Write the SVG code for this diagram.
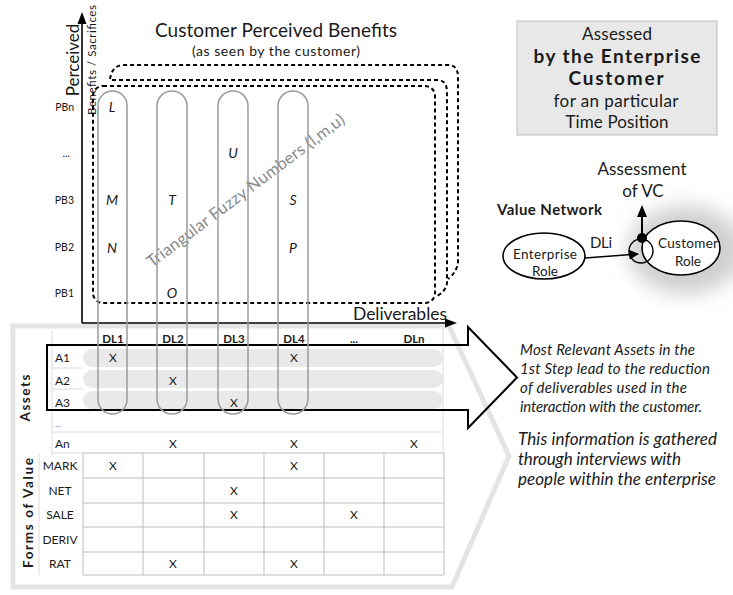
<svg xmlns="http://www.w3.org/2000/svg" width="733" height="595" viewBox="0 0 733 595">
  <defs>
    <style>
      .t { font-family: Lato, "Open Sans", "Noto Sans", sans-serif; fill: #1a1a1a; }
      .b { font-weight: bold; }
      .i { font-style: italic; }
      .mid { text-anchor: middle; }
      .dash { fill: none; stroke: #000; stroke-width: 2; stroke-dasharray: 4 3; }
      .pill { fill: none; stroke: #9a9a9a; stroke-width: 1.5; }
      .row { fill: #e9e9e9; }
      .grid { fill: none; stroke: #bdbdbd; stroke-width: 1; }
      .faint { fill: none; stroke: #dcdcdc; stroke-width: 1; }
      .x { font-size: 12px; text-anchor: middle; }
      .lbl { font-size: 12px; }
      .pb { font-size: 10.5px; text-anchor: end; }
      .fz { font-size: 14px; font-style: italic; text-anchor: middle; }
    </style>
    <filter id="glow" x="-60%" y="-60%" width="220%" height="220%">
      <feGaussianBlur stdDeviation="10"/>
    </filter>
    <marker id="arr" viewBox="0 0 10 10" refX="9" refY="5" markerWidth="7" markerHeight="7" orient="auto">
      <path d="M0 0 L10 5 L0 10 Z" fill="#000"/>
    </marker>
  </defs>

  <rect width="733" height="595" fill="#fff"/>

  <!-- lower table backdrop: pale pentagon outline -->
  <g id="table-frame">
    <path d="M13 326 H449 L509 456 L452 587 H13 Z" fill="#fff" stroke="#e4e4e4" stroke-width="5"/>
  </g>

  <!-- chart axes -->
  <g id="axes">
    <line x1="82" y1="323" x2="82" y2="22" stroke="#000" stroke-width="1.6"/>
    <polygon points="82,12 77.5,24 86.5,24" fill="#000"/>
    <line x1="82" y1="323" x2="446" y2="323" stroke="#000" stroke-width="1.6"/>
    <polygon points="457,323 445,318.5 445,327.5" fill="#000"/>
    <text class="t" transform="translate(79,60) rotate(-90)" font-size="17" text-anchor="middle">Perceived</text>
    <text class="t" transform="translate(95.5,60) rotate(-90)" font-size="11.5" text-anchor="middle" textLength="110">Benefits / Sacrifices</text>
    <text class="t" x="447" y="320" font-size="17.5" text-anchor="end" textLength="94">Deliverables</text>
    <text class="t pb" x="74" y="111">PBn</text>
    <text class="t pb" x="70" y="157">...</text>
    <text class="t pb" x="74" y="204">PB3</text>
    <text class="t pb" x="74" y="251">PB2</text>
    <text class="t pb" x="74" y="297">PB1</text>
  </g>

  <!-- title -->
  <g id="title">
    <text class="t mid" x="276" y="37" font-size="19" textLength="242">Customer Perceived Benefits</text>
    <text class="t mid" x="276" y="56" font-size="14" textLength="168">(as seen by the customer)</text>
  </g>

  <!-- stacked dashed sheets -->
  <g id="sheets">
    <path class="dash" d="M110 79 Q112 65 124 65 H448 Q458 65 458 77 V262 Q457 272 448 279"/>
    <path class="dash" d="M112 80 H437 Q447 80 447 92 V283 Q446 291 437 296"/>
    <rect class="dash" x="93" y="86" width="342" height="217" rx="10"/>
  </g>

  <text class="t" transform="translate(249,195) rotate(-37)" font-size="16.5" text-anchor="middle" textLength="243" style="fill:#8a8a8a">Triangular Fuzzy Numbers (l,m,u)</text>

  <!-- top-right note -->
  <g id="assessed-box">
    <rect x="517" y="21" width="200" height="114" fill="#e8e8e8" stroke="#bdbdbd" stroke-width="1"/>
    <text class="t mid" x="617" y="40" font-size="17" textLength="70">Assessed</text>
    <text class="t mid b" x="617" y="63" font-size="19" textLength="167">by the Enterprise</text>
    <text class="t mid b" x="616" y="85" font-size="19" textLength="95">Customer</text>
    <text class="t mid" x="616" y="107" font-size="17" textLength="125">for an particular</text>
    <text class="t mid" x="617" y="128" font-size="17" textLength="103">Time Position</text>
  </g>

  <!-- value network -->
  <g id="value-network">
    <text class="t b" x="497" y="215" font-size="15" textLength="105">Value Network</text>
    <text class="t mid" x="642" y="175" font-size="17" textLength="89">Assessment</text>
    <text class="t mid" x="643" y="197" font-size="17">of VC</text>
  </g>
  <g id="customer-role">
    <ellipse cx="686" cy="250" rx="58" ry="44" fill="#cfcfcf" filter="url(#glow)"/>
    <ellipse cx="681" cy="248" rx="39" ry="27" fill="#fff" stroke="#000" stroke-width="1.6"/>
    <text class="t mid" x="688" y="248" font-size="13.5" textLength="60">Customer</text>
    <text class="t mid" x="688" y="266" font-size="13.5">Role</text>
  </g>
  <g id="enterprise-role">
    <ellipse cx="544" cy="256" rx="41" ry="23" fill="#fff" stroke="#000" stroke-width="1.6"/>
    <text class="t mid" x="545" y="259" font-size="13.5" textLength="64">Enterprise</text>
    <text class="t mid" x="545" y="276" font-size="13.5">Role</text>
  </g>
  <g id="vn-connectors">
    <circle cx="641" cy="251" r="12" fill="none" stroke="#000" stroke-width="1.4"/>
    <line x1="585" y1="258" x2="638" y2="254" stroke="#000" stroke-width="1.4" marker-end="url(#arr)"/>
    <text class="t mid" x="601" y="248" font-size="15" textLength="22">DLi</text>
    <line x1="642" y1="238" x2="642" y2="216" stroke="#000" stroke-width="2"/>
    <polygon points="642,205 637,217 647,217" fill="#000"/>
    <circle cx="642" cy="238" r="5" fill="#000"/>
  </g>

  <!-- asset rows -->
  <g id="assets">
    <rect class="row" x="83" y="349" width="360" height="18" rx="9"/>
    <rect class="row" x="83" y="370" width="360" height="18" rx="9"/>
    <rect class="row" x="83" y="391" width="360" height="18" rx="9"/>
    <path class="faint" d="M52 330 V457 M52 368 H83 M52 389 H83 M52 432 H443 M52 453 H83 M443 328 V453"/>
    <text class="t b mid" font-size="11.5" x="113" y="343">DL1</text>
    <text class="t b mid" font-size="11.5" x="173" y="343">DL2</text>
    <text class="t b mid" font-size="11.5" x="234" y="343">DL3</text>
    <text class="t b mid" font-size="11.5" x="294" y="343">DL4</text>
    <text class="t b mid" font-size="11.5" x="354" y="343">...</text>
    <text class="t b mid" font-size="11.5" x="414" y="343">DLn</text>
    <text class="t lbl" x="55" y="362">A1</text>
    <text class="t lbl" x="55" y="385">A2</text>
    <text class="t lbl" x="55" y="407">A3</text>
    <text class="t" x="55" y="427" font-size="9" style="fill:#888">...</text>
    <text class="t lbl" x="55" y="448">An</text>
    <text class="t b" transform="translate(30,398) rotate(-90)" font-size="13.5" text-anchor="middle" textLength="47">Assets</text>
    <text class="t x" x="113" y="362">X</text>
    <text class="t x" x="294" y="362">X</text>
    <text class="t x" x="173" y="385">X</text>
    <text class="t x" x="234" y="407">X</text>
    <text class="t x" x="173" y="448">X</text>
    <text class="t x" x="294" y="448">X</text>
    <text class="t x" x="414" y="448">X</text>
  </g>

  <!-- forms of value grid -->
  <g id="forms-of-value">
    <path class="grid" d="M83 453 H444 M83 478 H444 M83 503 H444 M83 527 H444 M83 552 H444 M83 575 H444 M83 453 V575 M143 453 V575 M204 453 V575 M264 453 V575 M324 453 V575 M384 453 V575 M444 453 V575"/>
    <path class="faint" d="M39 453 V575"/>
    <text class="t lbl mid" x="60" y="470">MARK</text>
    <text class="t lbl mid" x="60" y="495">NET</text>
    <text class="t lbl mid" x="60" y="519">SALE</text>
    <text class="t lbl mid" x="60" y="544">DERIV</text>
    <text class="t lbl mid" x="60" y="568">RAT</text>
    <text class="t b" transform="translate(33,513) rotate(-90)" font-size="13.5" text-anchor="middle" textLength="110">Forms of  Value</text>
    <text class="t x" x="113" y="470">X</text>
    <text class="t x" x="294" y="470">X</text>
    <text class="t x" x="234" y="495">X</text>
    <text class="t x" x="234" y="519">X</text>
    <text class="t x" x="354" y="519">X</text>
    <text class="t x" x="173" y="568">X</text>
    <text class="t x" x="294" y="568">X</text>
  </g>

  <!-- selection arrow around the first asset rows -->
  <g id="selection-arrow">
    <path d="M47 345 H468 V327 L517 377.5 L468 428 V410 H47 Z" fill="none" stroke="#000" stroke-width="2"/>
  </g>

  <!-- deliverable capsules with fuzzy values -->
  <g id="capsules">
    <rect class="pill" x="98" y="91" width="29" height="323" rx="14.5"/>
    <rect class="pill" x="157" y="91" width="30" height="323" rx="15"/>
    <rect class="pill" x="218" y="91" width="30" height="323" rx="15"/>
    <rect class="pill" x="278" y="91" width="30" height="323" rx="15"/>
    <text class="t fz" x="112" y="112">L</text>
    <text class="t fz" x="112" y="205">M</text>
    <text class="t fz" x="112" y="253">N</text>
    <text class="t fz" x="172" y="205">T</text>
    <text class="t fz" x="172" y="298">O</text>
    <text class="t fz" x="233" y="158">U</text>
    <text class="t fz" x="293" y="205">S</text>
    <text class="t fz" x="293" y="253">P</text>
  </g>

  <!-- explanatory notes -->
  <g id="notes">
    <text class="t i" x="520" y="355" font-size="15" textLength="175">Most Relevant Assets in the</text>
    <text class="t i" x="520" y="374" font-size="15" textLength="190">1st Step lead to the reduction</text>
    <text class="t i" x="520" y="393" font-size="15" textLength="167">of deliverables used in the</text>
    <text class="t i" x="520" y="412" font-size="15" textLength="182">interaction with the customer.</text>
    <text class="t i" x="518" y="445" font-size="17" textLength="199">This information is gathered</text>
    <text class="t i" x="518" y="465" font-size="17" textLength="163">through interviews with</text>
    <text class="t i" x="518" y="485" font-size="17" textLength="198">people within the enterprise</text>
  </g>
</svg>
